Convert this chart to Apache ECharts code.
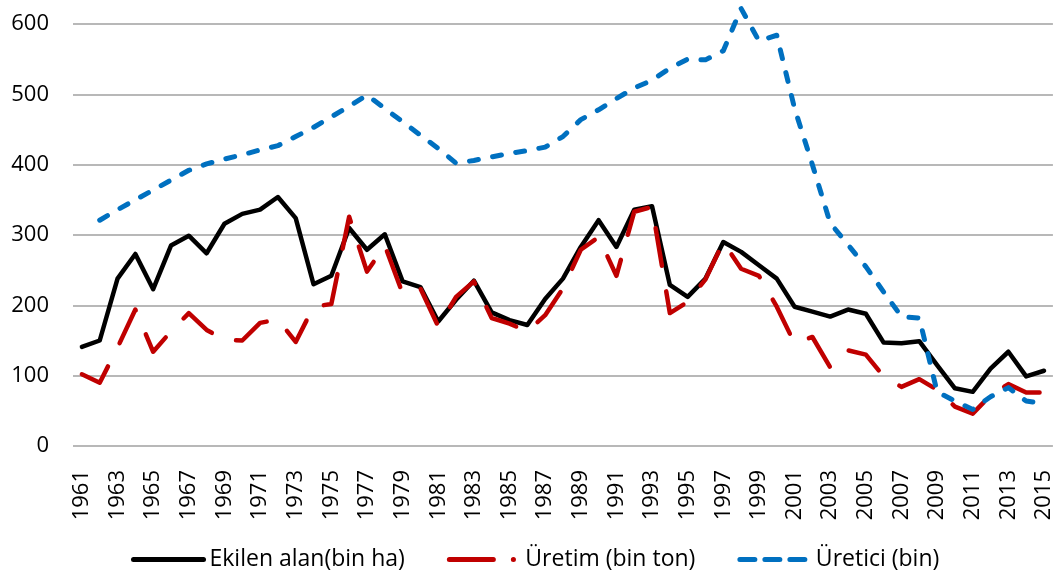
<!DOCTYPE html>
<html>
<head>
<meta charset="utf-8">
<script src="https://cdn.jsdelivr.net/npm/echarts@6/dist/echarts.min.js"></script>
<style>
html,body{margin:0;padding:0;background:#fff;}
#chart{width:1055px;height:574px;}
</style>
</head>
<body>
<div id="chart"></div>
<script>
const years = ['1961','1962','1963','1964','1965','1966','1967','1968','1969','1970',
  '1971','1972','1973','1974','1975','1976','1977','1978','1979','1980',
  '1981','1982','1983','1984','1985','1986','1987','1988','1989','1990',
  '1991','1992','1993','1994','1995','1996','1997','1998','1999','2000',
  '2001','2002','2003','2004','2005','2006','2007','2008','2009','2010',
  '2011','2012','2013','2014','2015'];

const ekilenAlan = [141,150,238,273,223,285,299,274,316,330,
  336,354,324,230,242,310,279,301,234,226,
  177,208,235,190,179,172,209,238,283,321,
  283,336,341,229,212,238,290,276,257,238,
  198,191,184,194,188,147,146,149,115,82,
  77,110,134,99,107];

const uretim = [102,90,140,194,134,163,189,165,151,150,
  175,180,148,198,202,326,248,285,217,224,
  170,212,234,182,174,163,186,224,279,297,
  242,333,340,189,205,237,290,252,242,198,
  146,155,112,136,130,99,84,95,80,56,
  46,72,88,76,76];

const uretici = [null,321,336,350,364,378,392,401,408,414,
  421,427,440,453,468,483,499,480,461,442,
  423,402,406,411,416,420,425,440,464,478,
  494,509,520,537,550,549,562,622,576,584,
  480,400,317,286,255,219,184,182,77,64,
  52,70,83,64,60];

const seriesNames = ['Ekilen alan(bin ha)', 'Üretim (bin ton)', 'Üretici (bin)'];
const yTicks = [0, 100, 200, 300, 400, 500, 600];

const FONT = '"Open Sans", "Noto Sans", sans-serif';
const chart = echarts.init(document.getElementById('chart'), null, {renderer: 'canvas'});
chart.setOption({
  animation: false,
  backgroundColor: '#fff',
  textStyle: {fontFamily: FONT},
  grid: {left: 73, right: 2, top: 24, bottom: 128, containLabel: false},
  legend: {
    left: 126, top: 543,
    itemWidth: 70, itemHeight: 14, itemGap: 42,
    itemStyle: {opacity: 0},
    textStyle: {fontSize: 23, color: '#000', fontFamily: FONT, padding: [0, 0, 0, 1]},
    data: [
      {name: seriesNames[0], lineStyle: {width: 5, cap: 'round'}},
      {name: seriesNames[1], lineStyle: {width: 5, type: [44, 20, 0.1, 40], cap: 'round'}},
      {name: seriesNames[2], lineStyle: {width: 5, type: [15, 10], cap: 'round'}}
    ]
  },
  xAxis: {
    type: 'category',
    data: years,
    boundaryGap: true,
    axisLine: {show: false},
    axisTick: {show: false},
    axisLabel: {interval: 1, rotate: 90, fontSize: 22, color: '#000', margin: 24, fontFamily: FONT}
  },
  yAxis: {
    type: 'value',
    min: yTicks[0], max: yTicks[yTicks.length - 1], interval: 100,
    axisLine: {show: false},
    axisTick: {show: false},
    axisLabel: {fontSize: 22, color: '#000', margin: 24, fontFamily: FONT},
    splitLine: {lineStyle: {color: '#a0a0a0', width: 1.5}}
  },
  series: [
    {
      name: seriesNames[0], type: 'line', data: ekilenAlan,
      symbol: 'none', clip: false,
      lineStyle: {color: '#000000', width: 4.5, cap: 'round', join: 'round'},
      itemStyle: {color: '#000000'}
    },
    {
      name: seriesNames[1], type: 'line', data: uretim,
      symbol: 'none', clip: false,
      lineStyle: {color: '#c00000', width: 4.5, type: [38, 26], cap: 'round', join: 'round'},
      itemStyle: {color: '#c00000'}
    },
    {
      name: seriesNames[2], type: 'line', data: uretici,
      symbol: 'none', clip: false,
      lineStyle: {color: '#0070c0', width: 5, type: [9, 14.5], cap: 'round', join: 'round'},
      itemStyle: {color: '#0070c0'}
    }
  ]
});
</script>
</body>
</html>
